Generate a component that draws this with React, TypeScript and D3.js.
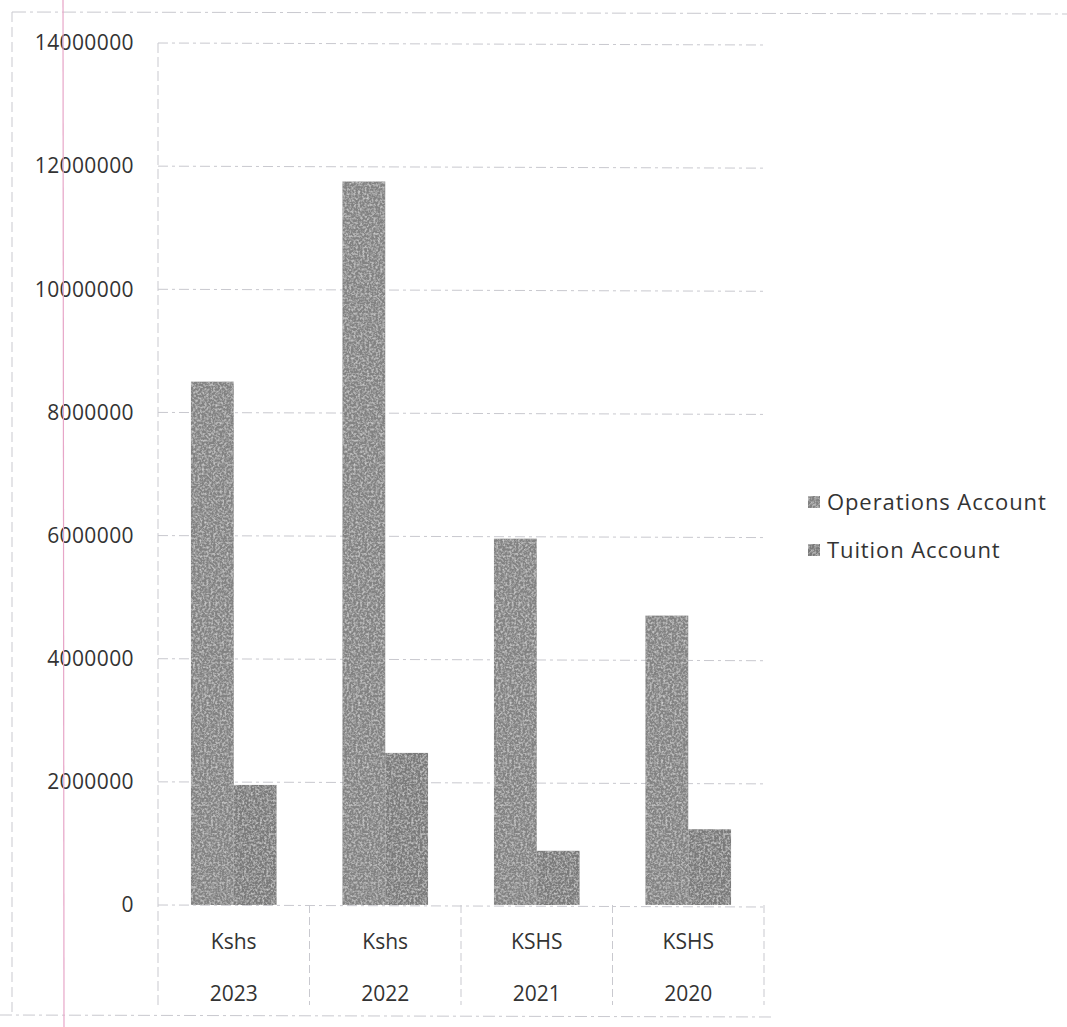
import React, { useEffect, useRef } from 'react';
import * as d3 from 'd3';

const categories = ['2023', '2022', '2021', '2020'];
const currencyLabels = ['Kshs', 'Kshs', 'KSHS', 'KSHS'];
const operations = [8500000, 11750000, 5950000, 4700000];
const tuition = [1950000, 2470000, 880000, 1230000];
const seriesNames = ['Operations Account', 'Tuition Account'];
const yTicks = [0, 2000000, 4000000, 6000000, 8000000, 10000000, 12000000, 14000000];

const W = 1067;
const H = 1027;

export default function App() {
  const svgRef = useRef<SVGSVGElement | null>(null);

  useEffect(() => {
    const svg = d3.select(svgRef.current);
    svg.selectAll('*').remove();

    var font = "'Open Sans', 'Noto Sans', sans-serif";
    var textColor = '#333333';
    var left = 158, right = 764, top = 43, bottom = 905;

    var y = d3.scaleLinear().domain([0, 14000000]).range([bottom, top]);
    var x = d3.scaleBand().domain(categories).range([left, right]).paddingInner(0).paddingOuter(0);
    var inner = d3.scaleBand().domain(seriesNames).range([0, x.bandwidth()]).paddingInner(0).paddingOuter(0.77);

    // speckled scan texture
    var defs = svg.append('defs');
    var f = defs.append('filter').attr('id', 'grain').attr('x', 0).attr('y', 0).attr('width', 1).attr('height', 1);
    f.append('feTurbulence').attr('type', 'fractalNoise').attr('baseFrequency', 0.45).attr('numOctaves', 2).attr('seed', 4).attr('result', 'noise');
    f.append('feColorMatrix').attr('in', 'noise').attr('type', 'matrix')
      .attr('values', '0 0 0 0 1  0 0 0 0 1  0 0 0 0 1  0 0 0 1.1 -0.45').attr('result', 'spots');
    f.append('feComposite').attr('in', 'spots').attr('in2', 'SourceGraphic').attr('operator', 'in').attr('result', 'clipped');
    var merge = f.append('feMerge');
    merge.append('feMergeNode').attr('in', 'SourceGraphic');
    merge.append('feMergeNode').attr('in', 'clipped');

    svg.append('rect').attr('width', W).attr('height', H).attr('fill', '#ffffff');

    var grid = '#c9c9cf';
    // outer chart frame (scanned, partly visible)
    svg.append('line').attr('x1', 12).attr('x2', W).attr('y1', 12).attr('y2', 14)
      .attr('stroke', grid).attr('stroke-dasharray', '14 4 3 4');
    svg.append('line').attr('x1', 12).attr('x2', 12).attr('y1', 12).attr('y2', 1012)
      .attr('stroke', grid).attr('stroke-dasharray', '10 5');
    svg.append('line').attr('x1', 0).attr('x2', 775).attr('y1', 1015).attr('y2', 1017)
      .attr('stroke', grid).attr('stroke-dasharray', '12 4 3 4');

    // gridlines
    svg.append('g').selectAll('line').data(yTicks).enter().append('line')
      .attr('x1', left).attr('x2', right)
      .attr('y1', d => y(d)).attr('y2', d => y(d) + 2)
      .attr('stroke', grid).attr('stroke-dasharray', '10 4 3 4');

    // y axis line
    svg.append('line').attr('x1', left).attr('x2', left).attr('y1', top).attr('y2', 1005)
      .attr('stroke', grid).attr('stroke-dasharray', '10 4');

    // category separators below axis
    svg.append('g').selectAll('line').data(categories).enter().append('line')
      .attr('x1', d => (x(d) as number) + x.bandwidth()).attr('x2', d => (x(d) as number) + x.bandwidth())
      .attr('y1', bottom).attr('y2', 1005)
      .attr('stroke', grid).attr('stroke-dasharray', '8 4');

    // y labels
    svg.append('g').selectAll('text').data(yTicks).enter().append('text')
      .attr('x', 134).attr('y', d => y(d)).attr('dy', '0.35em')
      .attr('text-anchor', 'end').attr('font-family', font).attr('font-size', 21).attr('fill', textColor)
      .attr('letter-spacing', 0.4)
      .text(d => d3.format('d')(d));

    // bars
    var colors = ['#828282', '#7a7a7a'];
    var rows = categories.map((c, i) => ({ cat: c, vals: [operations[i], tuition[i]] }));
    var groups = svg.append('g').selectAll('g').data(rows).enter().append('g')
      .attr('transform', d => 'translate(' + x(d.cat) + ',0)');
    groups.selectAll('rect').data(d => d.vals.map((v, j) => ({ v: v, name: seriesNames[j], j: j }))).enter().append('rect')
      .attr('x', d => inner(d.name) as number)
      .attr('width', inner.bandwidth())
      .attr('y', d => y(d.v))
      .attr('height', d => y(0) - y(d.v))
      .attr('fill', d => colors[d.j])
      .attr('filter', 'url(#grain)');

    // category labels
    var lab = svg.append('g').selectAll('g').data(categories).enter().append('g');
    lab.append('text')
      .attr('x', d => (x(d) as number) + x.bandwidth() / 2).attr('y', 949)
      .attr('text-anchor', 'middle').attr('font-family', font).attr('font-size', 21).attr('fill', textColor)
      .text((d, i) => currencyLabels[i]);
    lab.append('text')
      .attr('x', d => (x(d) as number) + x.bandwidth() / 2).attr('y', 1001)
      .attr('text-anchor', 'middle').attr('font-family', font).attr('font-size', 21).attr('fill', textColor)
      .text(d => d);

    // legend
    var leg = svg.append('g').selectAll('g').data(seriesNames).enter().append('g')
      .attr('transform', (d, i) => 'translate(808,' + (502 + i * 48) + ')');
    leg.append('rect').attr('x', 0).attr('y', -6).attr('width', 12).attr('height', 12)
      .attr('fill', (d, i) => colors[i]).attr('filter', 'url(#grain)');
    leg.append('text').attr('x', 19).attr('dy', '0.35em')
      .attr('font-family', font).attr('font-size', 22).attr('fill', textColor)
      .attr('letter-spacing', 0.9)
      .text(d => d);

    // notebook margin line from the scan
    svg.append('line').attr('x1', 63).attr('x2', 64).attr('y1', 0).attr('y2', H)
      .attr('stroke', '#e7a6c8').attr('stroke-width', 1.2);
  }, []);

  return (
    <div style={{ position: 'absolute', left: 0, top: 0 }}>
      <svg width={W} height={H} ref={svgRef} style={{ display: 'block' }}></svg>
    </div>
  );
}
